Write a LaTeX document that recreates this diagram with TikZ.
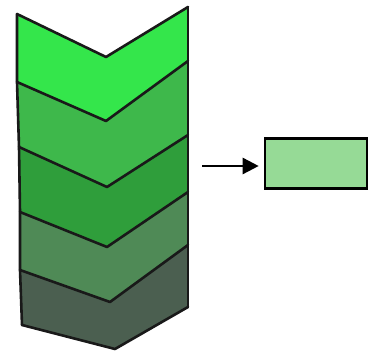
\documentclass[tikz,border=0pt]{standalone}
\usetikzlibrary{arrows.meta}
\begin{document}
\begin{tikzpicture}[x=1pt,y=-1pt,
  edge/.style={line width=2.6pt,line join=round,line cap=round,black!90}]
\definecolor{g1}{HTML}{34E64B}
\definecolor{g2}{HTML}{3EB84B}
\definecolor{g3}{HTML}{2F9E3B}
\definecolor{g4}{HTML}{4F8A56}
\definecolor{g5}{HTML}{4B5F50}
\definecolor{gbox}{HTML}{96DA96}
\useasboundingbox (0,0) rectangle (371,352);
% chevron boundary lines (left, middle, right)
\coordinate (a0) at (17,14);  \coordinate (m0) at (106,57);  \coordinate (b0) at (188,7);
\coordinate (a1) at (17,82);  \coordinate (m1) at (106,121); \coordinate (b1) at (188,61);
\coordinate (a2) at (19,147); \coordinate (m2) at (107,187); \coordinate (b2) at (188,135);
\coordinate (a3) at (20,212); \coordinate (m3) at (107,247); \coordinate (b3) at (188,192);
\coordinate (a4) at (20,270); \coordinate (m4) at (110,302); \coordinate (b4) at (188,245);
\coordinate (a5) at (22,325); \coordinate (m5) at (115,349); \coordinate (b5) at (188,307);
% bands
\fill[g1] (a0)--(m0)--(b0)--(b1)--(m1)--(a1)--cycle;
\fill[g2] (a1)--(m1)--(b1)--(b2)--(m2)--(a2)--cycle;
\fill[g3] (a2)--(m2)--(b2)--(b3)--(m3)--(a3)--cycle;
\fill[g4] (a3)--(m3)--(b3)--(b4)--(m4)--(a4)--cycle;
\fill[g5] (a4)--(m4)--(b4)--(b5)--(m5)--(a5)--cycle;
% outlines
\draw[edge] (a0)--(a1)--(a2)--(a3)--(a4)--(a5);
\draw[edge] (b0)--(b1)--(b2)--(b3)--(b4)--(b5);
\foreach \i in {0,...,5} \draw[edge] (a\i)--(m\i)--(b\i);
% output block
\node[draw,line width=2.6pt,fill=gbox,minimum width=102pt,minimum height=50pt,inner sep=0pt] (out) at (316,163.5) {};
\coordinate (src) at (202,166);
\draw[line width=2.5pt,shorten >=5pt,-{Triangle[length=16pt,width=16pt]}] (src) -- (out.west |- src);
\end{tikzpicture}
\end{document}
